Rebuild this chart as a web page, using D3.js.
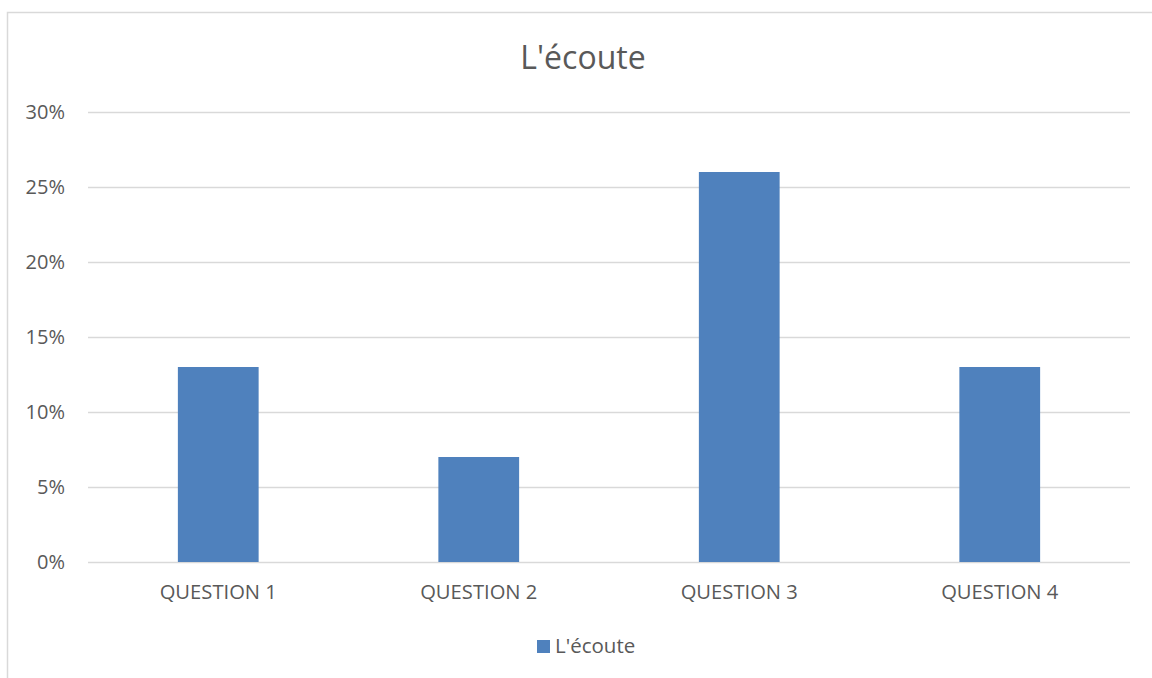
<!DOCTYPE html>
<html><head><meta charset="utf-8">
<script src="https://cdn.jsdelivr.net/npm/d3@7"></script>
<style>body{margin:0;background:#fff}svg{display:block}text{font-family:"Open Sans",sans-serif}</style>
</head><body><svg id="c" width="1152" height="678"></svg>
<script>
const categories = ["QUESTION 1","QUESTION 2","QUESTION 3","QUESTION 4"];
const values = [0.13,0.07,0.26,0.13];
const yTicks = [0,0.05,0.10,0.15,0.20,0.25,0.30];
const seriesName = "L'écoute";
const title = "L'écoute";

const svg = d3.select("#c");
const color = "#4f81bd";
svg.append("rect").attr("x",7.5).attr("y",12.5).attr("width",1160).attr("height",680)
  .attr("fill","#fff").attr("stroke","#d9d9d9").attr("stroke-width",1.5);

const L=88,R=1130,T=112,B=562;
const x = d3.scaleBand().domain(categories).range([L,R]).paddingInner(0.69).paddingOuter(0.345);
const y = d3.scaleLinear().domain([0,0.30]).range([B,T]);

svg.append("g").selectAll("line").data(yTicks).join("line")
  .attr("x1",L).attr("x2",R).attr("y1",d=>Math.round(y(d))+0.5).attr("y2",d=>Math.round(y(d))+0.5)
  .attr("stroke","#d9d9d9").attr("stroke-width",1.3);

svg.append("g").selectAll("text").data(yTicks).join("text")
  .attr("x",65).attr("y",d=>y(d)).attr("dy","0.36em").attr("text-anchor","end")
  .attr("font-size",20).attr("fill","#595959").text(d3.format(".0%"));

svg.append("g").selectAll("rect").data(values).join("rect")
  .attr("x",(d,i)=>x(categories[i])).attr("width",x.bandwidth())
  .attr("y",d=>y(d)).attr("height",d=>B-y(d)).attr("fill",color);

svg.append("g").selectAll("text").data(categories).join("text")
  .attr("x",d=>x(d)+x.bandwidth()/2).attr("y",599).attr("text-anchor","middle")
  .attr("font-size",20.2).attr("fill","#595959").text(d=>d);

svg.append("text").attr("x",583).attr("y",69).attr("text-anchor","middle")
  .attr("font-size",32).attr("fill","#595959").text(title);

svg.append("rect").attr("x",537).attr("y",640).attr("width",13).attr("height",13).attr("fill",color);
svg.append("text").attr("x",555).attr("y",653).attr("font-size",20.5).attr("fill","#595959").text(seriesName);
</script></body></html>
